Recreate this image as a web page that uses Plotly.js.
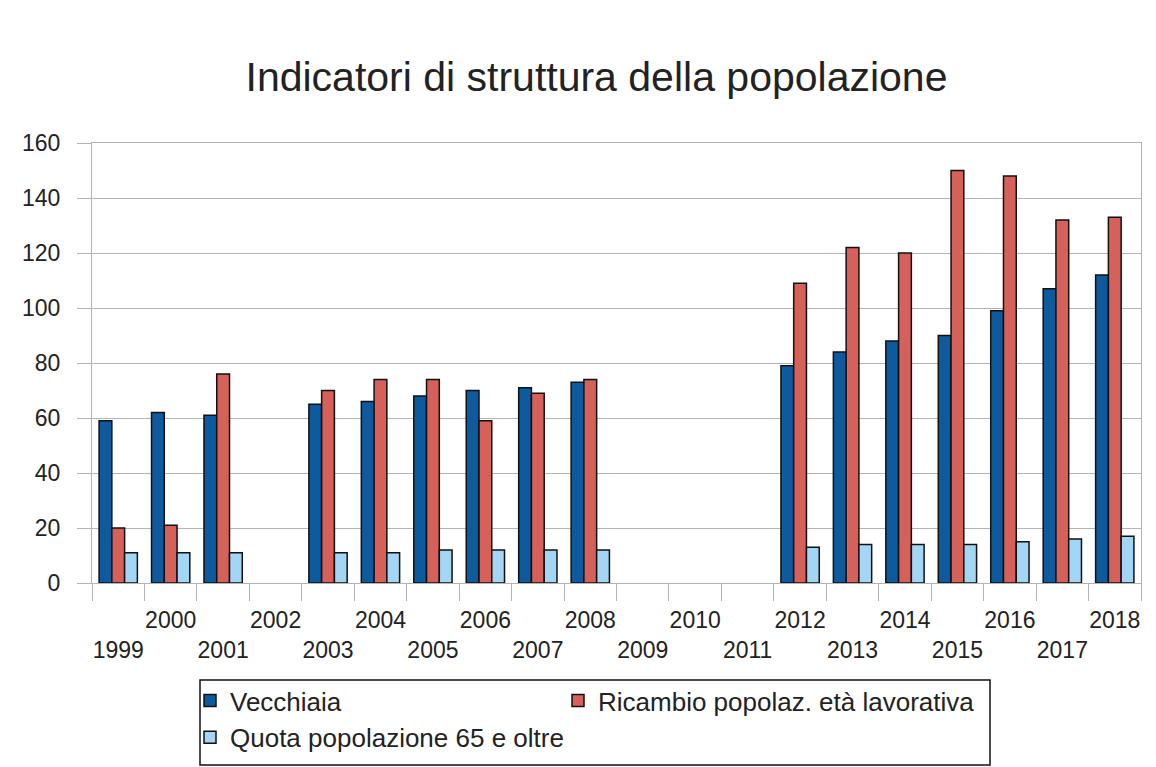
<!DOCTYPE html>
<html>
<head>
<meta charset="utf-8">
<script src="https://cdn.plot.ly/plotly-3.0.1.min.js"></script>
<style>html,body{margin:0;padding:0;background:#fff;}#chart{width:1156px;height:767px;}</style>
</head>
<body>
<div id="chart"></div>
<script>
const years = ["1999","2000","2001","2002","2003","2004","2005","2006","2007","2008","2009","2010","2011","2012","2013","2014","2015","2016","2017","2018"];
const tickLabels = ["<br>1999","2000","<br>2001","2002","<br>2003","2004","<br>2005","2006","<br>2007","2008","<br>2009","2010","<br>2011","2012","<br>2013","2014","<br>2015","2016","<br>2017","2018"];
const vecchiaia = [59, 62, 61, null, 65, 66, 68, 70, 71, 73, null, null, null, 79, 84, 88, 90, 99, 107, 112];
const ricambio  = [20, 21, 76, null, 70, 74, 74, 59, 69, 74, null, null, null, 109, 122, 120, 150, 148, 132, 133];
const quota65   = [11, 11, 11, null, 11, 11, 12, 12, 12, 12, null, null, null, 13, 14, 14, 14, 15, 16, 17];
const seriesNames = ["Vecchiaia", "Ricambio popolaz. età lavorativa", "Quota popolazione 65 e oltre"];
const seriesColors = ["#0d5a9e", "#d5615a", "#a3d6f5"];
const seriesLegends = ["legend", "legend2", "legend"];
const seriesValues = [vecchiaia, ricambio, quota65];

const traces = seriesValues.map((v, i) => ({
  type: "bar",
  x: years,
  y: v,
  name: seriesNames[i],
  legend: seriesLegends[i],
  marker: {color: seriesColors[i], line: {color: "#111", width: 1.5}}
}));

const fam = "Liberation Sans, Arial, sans-serif";
const tickFont = {family: fam, size: 23, color: "#222"};
const legendFont = {family: fam, size: 26, color: "#222"};
const legendBase = {
  orientation: "v",
  xref: "container", yref: "container",
  xanchor: "left", yanchor: "top",
  y: 1 - 677 / 767,
  borderwidth: 0,
  bgcolor: "rgba(0,0,0,0)",
  font: legendFont,
  itemclick: false, itemdoubleclick: false
};
const layout = {
  width: 1156, height: 767,
  margin: {l: 92, r: 15, t: 143, b: 184, autoexpand: false},
  paper_bgcolor: "#fff", plot_bgcolor: "#fff",
  font: tickFont,
  barmode: "group",
  bargap: 0.27,
  bargroupgap: 0,
  title: {text: "Indicatori di struttura della popolazione", font: {family: fam, size: 41, color: "#222"}, x: 0.516, xanchor: "center", y: 0.9, yanchor: "middle", yref: "container"},
  xaxis: {
    type: "category",
    categoryorder: "array", categoryarray: years,
    tickmode: "array", tickvals: years, ticktext: tickLabels,
    tickson: "boundaries",
    ticks: "outside", ticklen: 17, tickcolor: "#b3b3b3", tickwidth: 1,
    ticklabelstandoff: 16,
    showgrid: false,
    showline: true, linecolor: "#b3b3b3", linewidth: 1, mirror: true,
    tickfont: tickFont, tickangle: 0,
    zeroline: false, fixedrange: true
  },
  yaxis: {
    range: [0, 160], dtick: 20, tick0: 0,
    ticks: "outside", ticklen: 14, tickcolor: "#b3b3b3",
    showgrid: true, gridcolor: "#b3b3b3", gridwidth: 1,
    showline: true, linecolor: "#b3b3b3", mirror: true,
    zeroline: false,
    tickfont: {family: fam, size: 23, color: "#222"},
    ticklabelstandoff: 12
  },
  showlegend: true,
  legend: Object.assign({}, legendBase, {x: 190 / 1156}),
  legend2: Object.assign({}, legendBase, {x: 558 / 1156}),
  shapes: [{
    type: "rect", xref: "paper", yref: "paper",
    x0: (200 - 92) / 1049, x1: (990 - 92) / 1049,
    y0: (583 - 765) / 440, y1: (583 - 680) / 440,
    line: {color: "#111", width: 1.5}, fillcolor: "rgba(0,0,0,0)", layer: "below"
  }]
};

Plotly.newPlot("chart", traces, layout, {displayModeBar: false, staticPlot: true});
</script>
</body>
</html>
